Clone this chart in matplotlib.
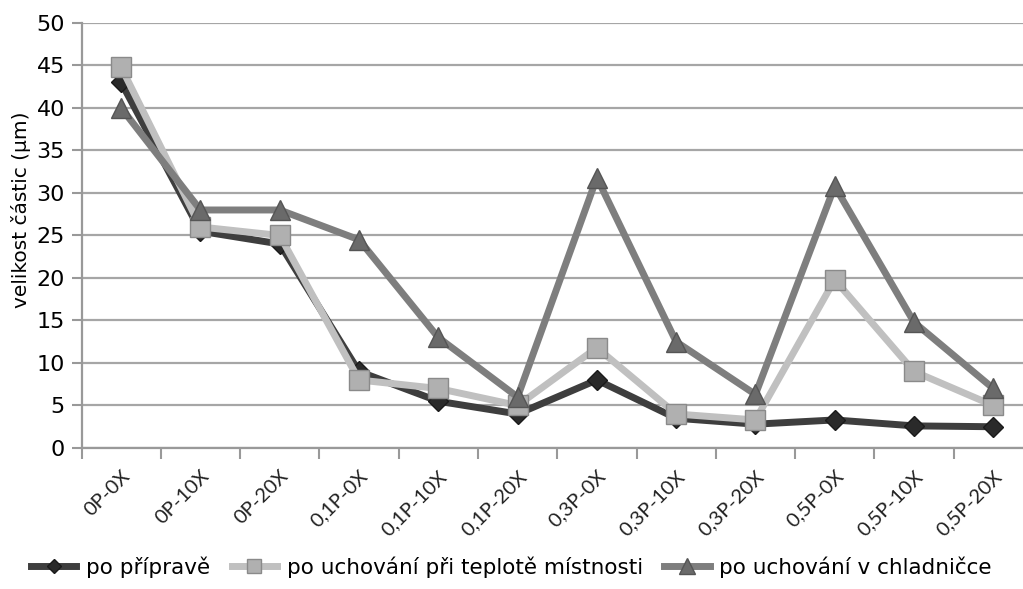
import matplotlib
matplotlib.use("Agg")
import matplotlib.pyplot as plt
import numpy as np

plt.rcParams['font.family'] = ['DejaVu Sans']

kategorie = ['0P-0X', '0P-10X', '0P-20X', '0,1P-0X', '0,1P-10X', '0,1P-20X',
             '0,3P-0X', '0,3P-10X', '0,3P-20X', '0,5P-0X', '0,5P-10X', '0,5P-20X']

po_priprave = [43, 25.5, 24, 9, 5.5, 4, 8, 3.5, 2.8, 3.3, 2.6, 2.5]
po_uchovani_mistnost = [44.8, 26, 25, 8, 7, 5, 11.8, 4, 3.3, 19.8, 9, 5]
po_uchovani_lednice = [40, 28, 28, 24.5, 13, 6, 31.8, 12.5, 6.3, 30.8, 14.8, 7]

nazvy = ['po přípravě', 'po uchování při teplotě místnosti', 'po uchování v chladničce']

yticks = np.arange(0, 51, 5)

fig = plt.figure(figsize=(10.23, 5.89), dpi=100)
ax = fig.add_axes([0.0797, 0.2394, 0.930, 0.7216])

x = np.arange(len(kategorie))

# poradi jako v Excelu: serie 1 dole, serie 3 nahore
ax.plot(x, po_priprave, color='#3e3e3e', lw=5, marker='D', ms=10,
        mfc='#2a2a2a', mec='#1a1a1a', mew=1, label=nazvy[0], zorder=3)
ax.plot(x, po_uchovani_mistnost, color='#c0c0c0', lw=5, marker='s', ms=14,
        mfc='#b0b0b0', mec='#8a8a8a', mew=1, label=nazvy[1], zorder=4)
ax.plot(x, po_uchovani_lednice, color='#7e7e7e', lw=5, marker='^', ms=15,
        mfc='#6a6a6a', mec='#555555', mew=1, label=nazvy[2], zorder=5)

ax.set_xlim(-0.5, len(kategorie) - 0.5)
ax.set_ylim(0, 50)
ax.set_yticks(yticks)
ax.set_yticklabels([str(v) for v in yticks], fontsize=16)
ax.set_xticks(x)
ax.set_xticklabels(kategorie, rotation=45, ha='right', va='top',
                   rotation_mode='anchor', fontsize=14.5,
                   family=['Lato', 'DejaVu Sans'], color='#222222')
ax.set_xticks(np.arange(-0.5, len(kategorie), 1), minor=True)
ax.tick_params(axis='x', which='major', length=0, pad=14)
ax.tick_params(axis='x', which='minor', length=8, color='#999999', width=1.5)
ax.tick_params(axis='y', length=7, color='#999999', width=1.5, pad=5)

ax.grid(axis='y', color='#a6a6a6', lw=1.6)
ax.set_axisbelow(True)
for s in ['top', 'right']:
    ax.spines[s].set_visible(False)
ax.spines['left'].set_color('#999999')
ax.spines['bottom'].set_color('#999999')
ax.spines['left'].set_linewidth(1.6)
ax.spines['bottom'].set_linewidth(1.6)

ax.set_ylabel('velikost částic (µm)', fontsize=14.5)
ax.yaxis.set_label_coords(-0.053, 0.56)

fig.legend(loc='center', bbox_to_anchor=(0.5, 0.037),
           ncol=3, frameon=False, fontsize=15.5, handlelength=2.1,
           columnspacing=1.0, handletextpad=0.45, markerscale=0.75)

fig.savefig('out.png', dpi=100)
